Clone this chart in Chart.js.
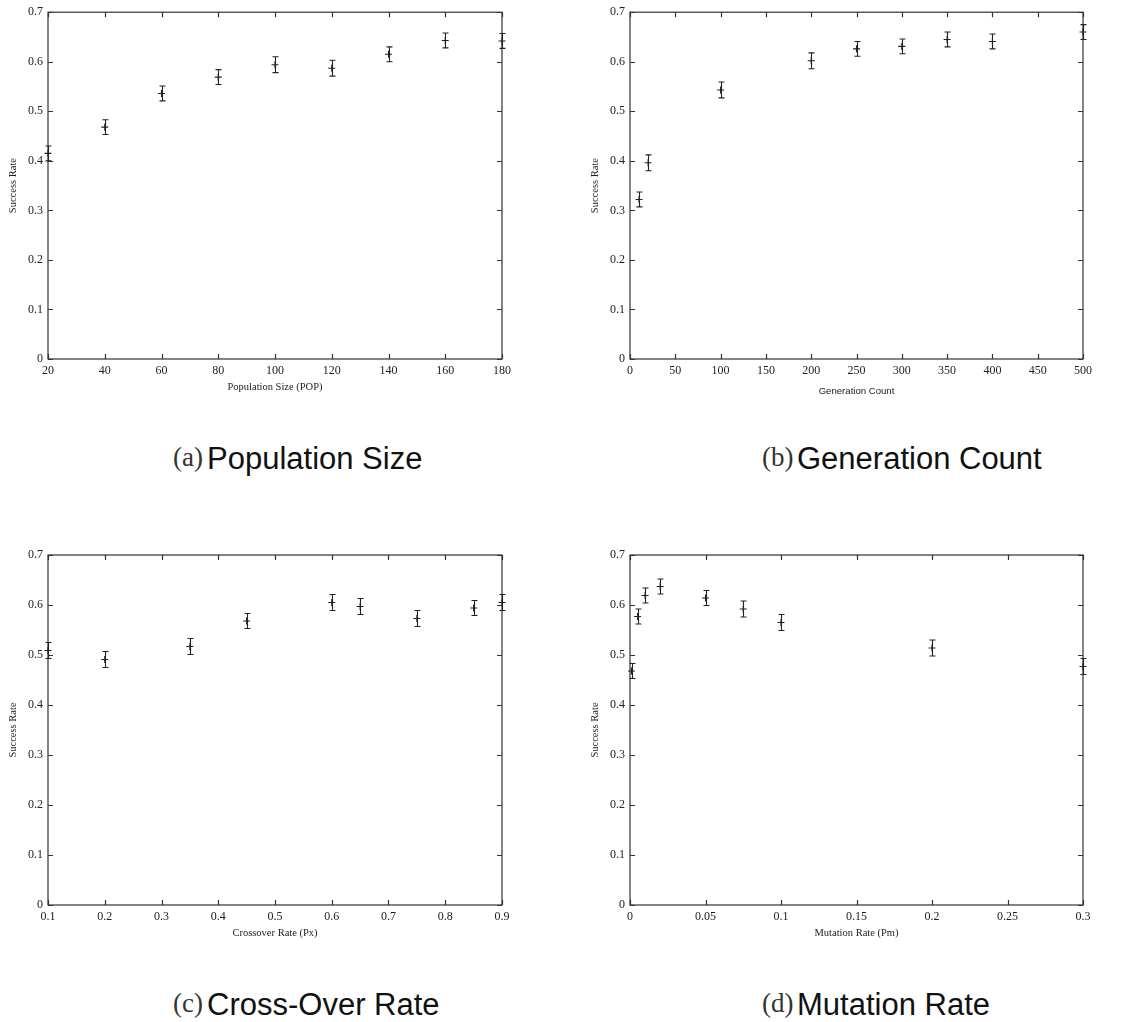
<!DOCTYPE html>
<html>
<head>
<meta charset="utf-8">
<script src="https://cdn.jsdelivr.net/npm/chart.js@4.4.1/dist/chart.umd.min.js"></script>
<style>
  body { margin: 0; background: #fff; width: 1147px; height: 1022px; position: relative; overflow: hidden; }
  canvas { position: absolute; }
  .lbl { position: absolute; font-family: "Liberation Serif", "Times New Roman", serif; font-size: 27px; color: #333; line-height: 1; white-space: nowrap; }
  .cap { position: absolute; font-family: "Liberation Sans", Arial, sans-serif; font-size: 31px; color: #111; line-height: 1; white-space: nowrap; }
</style>
</head>
<body>
<canvas id="popChart" width="573" height="400" style="left:0;top:0"></canvas>
<canvas id="genChart" width="574" height="400" style="left:573px;top:0"></canvas>
<canvas id="crossChart" width="573" height="410" style="left:0;top:540px"></canvas>
<canvas id="mutChart" width="574" height="410" style="left:573px;top:540px"></canvas>

<div class="lbl" style="left:173px;top:444px">(a)</div>
<div class="cap" style="left:207px;top:443px">Population Size</div>
<div class="lbl" style="left:762px;top:444px">(b)</div>
<div class="cap" style="left:797px;top:443px">Generation Count</div>
<div class="lbl" style="left:173px;top:990px">(c)</div>
<div class="cap" style="left:207px;top:989px">Cross-Over Rate</div>
<div class="lbl" style="left:762px;top:990px">(d)</div>
<div class="cap" style="left:797px;top:989px">Mutation Rate</div>

<script>
// Data
const successTicks = [0, 0.1, 0.2, 0.3, 0.4, 0.5, 0.6, 0.7];

const popSize = [20, 40, 60, 80, 100, 120, 140, 160, 180];
const popSuccess = [0.415, 0.468, 0.536, 0.569, 0.594, 0.587, 0.615, 0.643, 0.642];
const popErr = [0.015, 0.015, 0.015, 0.015, 0.016, 0.016, 0.015, 0.015, 0.015];
const popTicks = [20, 40, 60, 80, 100, 120, 140, 160, 180];

const genCount = [10, 20, 100, 200, 250, 300, 350, 400, 500];
const genSuccess = [0.322, 0.396, 0.543, 0.602, 0.626, 0.631, 0.645, 0.641, 0.660];
const genErr = [0.015, 0.016, 0.016, 0.016, 0.015, 0.015, 0.015, 0.015, 0.015];
const genTicks = [0, 50, 100, 150, 200, 250, 300, 350, 400, 450, 500];

const crossRate = [0.1, 0.2, 0.35, 0.45, 0.6, 0.65, 0.75, 0.85, 0.9];
const crossSuccess = [0.509, 0.491, 0.517, 0.568, 0.605, 0.597, 0.573, 0.594, 0.605];
const crossErr = [0.016, 0.016, 0.016, 0.015, 0.016, 0.016, 0.016, 0.015, 0.016];
const crossTicks = [0.1, 0.2, 0.3, 0.4, 0.5, 0.6, 0.7, 0.8, 0.9];

const mutRate = [0.001, 0.005, 0.01, 0.02, 0.05, 0.075, 0.1, 0.2, 0.3];
const mutSuccess = [0.468, 0.577, 0.619, 0.637, 0.614, 0.592, 0.565, 0.514, 0.477];
const mutErr = [0.015, 0.015, 0.015, 0.015, 0.015, 0.016, 0.016, 0.016, 0.016];
const mutTicks = [0, 0.05, 0.1, 0.15, 0.2, 0.25, 0.3];

const SERIF = '"Liberation Serif", "Times New Roman", serif';
const SANS = '"Liberation Sans", Arial, sans-serif';
const INK = '#222';

// gnuplot-like box with inward ticks on all four sides
const frame = {
  id: 'frame',
  beforeDatasetsDraw(chart) {
    const { ctx, chartArea: a, scales: { x, y } } = chart;
    const len = 5;
    ctx.save();
    ctx.strokeStyle = '#333';
    ctx.lineWidth = 1.2;
    ctx.strokeRect(a.left, a.top, a.right - a.left, a.bottom - a.top);
    ctx.beginPath();
    x.ticks.forEach(t => {
      const px = Math.round(x.getPixelForValue(t.value)) + 0.5;
      ctx.moveTo(px, a.bottom); ctx.lineTo(px, a.bottom - len);
      ctx.moveTo(px, a.top); ctx.lineTo(px, a.top + len);
    });
    y.ticks.forEach(t => {
      const py = Math.round(y.getPixelForValue(t.value)) + 0.5;
      ctx.moveTo(a.left, py); ctx.lineTo(a.left + len, py);
      ctx.moveTo(a.right, py); ctx.lineTo(a.right - len, py);
    });
    ctx.stroke();
    ctx.restore();
  }
};

const errorBars = {
  id: 'errorBars',
  afterDatasetsDraw(chart) {
    const { ctx, scales: { x, y } } = chart;
    const ds = chart.data.datasets[0];
    const cap = 3;
    ctx.save();
    ctx.strokeStyle = INK;
    ctx.lineWidth = 1.1;
    ctx.beginPath();
    ds.data.forEach((p, i) => {
      const px = Math.round(x.getPixelForValue(p.x)) + 0.5;
      const top = y.getPixelForValue(p.y + ds.errors[i]);
      const bot = y.getPixelForValue(p.y - ds.errors[i]);
      ctx.moveTo(px, top); ctx.lineTo(px, bot);
      ctx.moveTo(px - cap, top); ctx.lineTo(px + cap, top);
      ctx.moveTo(px - cap, bot); ctx.lineTo(px + cap, bot);
    });
    ctx.stroke();
    ctx.restore();
  }
};

function makePanel(id, p) {
  const xLh = p.xTitleSize * 1.2;
  const yLh = 10.5 * 1.2;
  return new Chart(document.getElementById(id), {
    type: 'scatter',
    data: {
      datasets: [{
        data: p.xs.map((x, i) => ({ x: x, y: p.ys[i] })),
        errors: p.errs,
        pointStyle: 'cross',
        pointRadius: 3.5,
        pointHoverRadius: 3.5,
        borderColor: INK,
        backgroundColor: INK,
        borderWidth: 1.1,
        clip: false
      }]
    },
    options: {
      responsive: false,
      animation: false,
      events: [],
      layout: { padding: { left: 0, top: p.area.t, right: p.w - p.area.r, bottom: 0 } },
      plugins: { legend: { display: false }, tooltip: { enabled: false } },
      scales: {
        x: {
          type: 'linear',
          min: p.xTicks[0],
          max: p.xTicks[p.xTicks.length - 1],
          afterBuildTicks: s => { s.ticks = p.xTicks.map(v => ({ value: v })); },
          afterFit: s => { s.height = p.h - p.area.b; },
          grid: { display: false, drawTicks: false },
          border: { display: false },
          ticks: {
            font: { family: SERIF, size: 12 },
            color: INK,
            padding: 5,
            maxRotation: 0,
            autoSkip: false,
            callback: v => String(v)
          },
          title: {
            display: true,
            text: p.xTitle,
            font: { family: p.xTitleFont, size: p.xTitleSize },
            color: INK,
            padding: { top: 0, bottom: p.h - p.xTitleY - xLh / 2 }
          }
        },
        y: {
          type: 'linear',
          min: 0,
          max: 0.7,
          afterBuildTicks: s => { s.ticks = successTicks.map(v => ({ value: v })); },
          afterFit: s => { s.width = p.area.l; },
          grid: { display: false, drawTicks: false },
          border: { display: false },
          ticks: {
            font: { family: SERIF, size: 12 },
            color: INK,
            padding: 5,
            callback: v => String(v)
          },
          title: {
            display: true,
            text: 'Success Rate',
            font: { family: SERIF, size: 10.5 },
            color: INK,
            padding: { top: p.yTitleX - yLh / 2, bottom: 0 }
          }
        }
      }
    },
    plugins: [frame, errorBars]
  });
}

makePanel('popChart', {
  xs: popSize, ys: popSuccess, errs: popErr, xTicks: popTicks,
  w: 573, h: 400, area: { l: 48, t: 8, r: 502, b: 359 },
  xTitle: 'Population Size (POP)', xTitleFont: SERIF, xTitleSize: 10.5, xTitleY: 387, yTitleX: 13
});

makePanel('genChart', {
  xs: genCount, ys: genSuccess, errs: genErr, xTicks: genTicks,
  w: 574, h: 400, area: { l: 57, t: 8, r: 510, b: 359 },
  xTitle: 'Generation Count', xTitleFont: SANS, xTitleSize: 9.6, xTitleY: 391, yTitleX: 22
});

makePanel('crossChart', {
  xs: crossRate, ys: crossSuccess, errs: crossErr, xTicks: crossTicks,
  w: 573, h: 410, area: { l: 48, t: 15, r: 502, b: 365 },
  xTitle: 'Crossover Rate (Px)', xTitleFont: SERIF, xTitleSize: 10.5, xTitleY: 393, yTitleX: 13
});

makePanel('mutChart', {
  xs: mutRate, ys: mutSuccess, errs: mutErr, xTicks: mutTicks,
  w: 574, h: 410, area: { l: 57, t: 15, r: 510, b: 365 },
  xTitle: 'Mutation Rate (Pm)', xTitleFont: SERIF, xTitleSize: 10.5, xTitleY: 393, yTitleX: 22
});
</script>
</body>
</html>
